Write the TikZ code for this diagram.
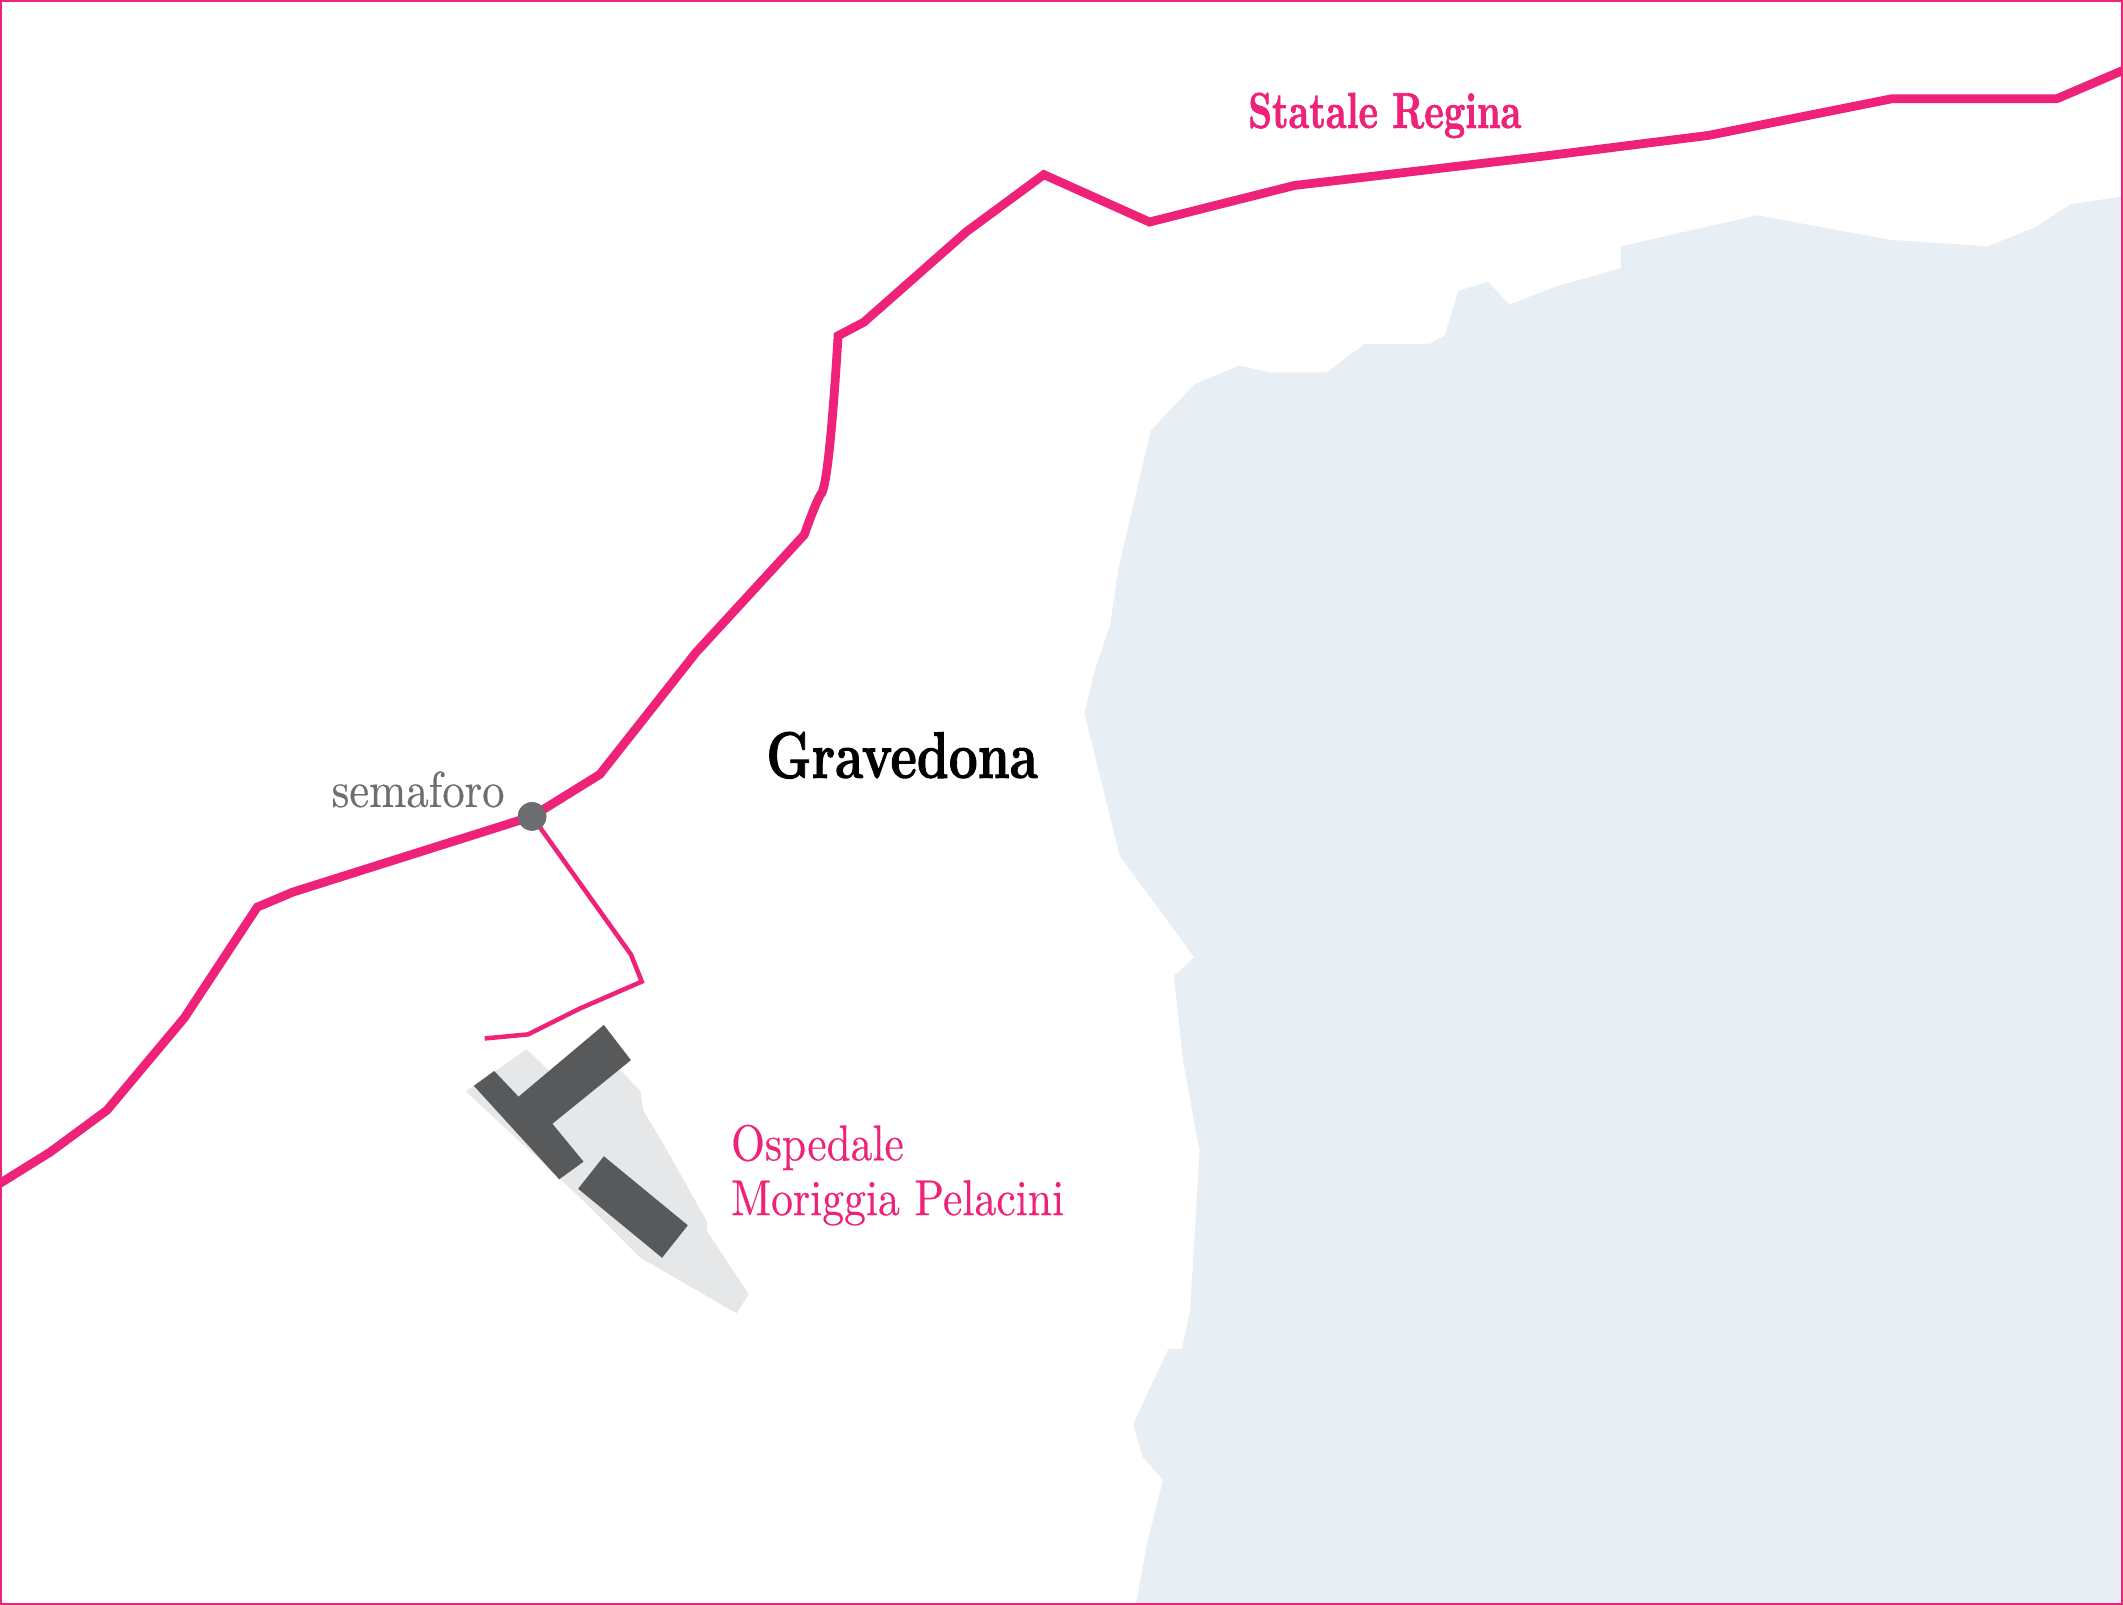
\documentclass[tikz,border=0pt]{standalone}
\usepackage{fontspec}
\setmainfont{Latin Modern Roman}
\newfontfamily\heavyfont[BoldFeatures={FakeBold=1.6}]{Latin Modern Roman}
\newfontfamily\mediumfont[FakeBold=0.35]{Latin Modern Roman}
\definecolor{pinkroad}{HTML}{EE2279}
\definecolor{lake}{HTML}{E7EEF4}
\definecolor{site}{HTML}{E6E7E8}
\definecolor{bldg}{HTML}{58595B}
\definecolor{dotgrey}{HTML}{6D6E71}
\tikzset{
  mainroad/.style={draw=pinkroad,line width=1.85pt,line join=miter},
  sideroad/.style={draw=pinkroad,line width=0.95pt,line join=miter},
  lbl/.style={anchor=base west,inner sep=0pt,outer sep=0pt},
  pinklbl/.style={lbl,text=pinkroad,font=\mediumfont\fontsize{10.6}{12}\selectfont},
  semdot/.style={circle,fill=dotgrey,inner sep=0pt,minimum size=0.21cm},
}
\begin{document}
\begin{tikzpicture}[x=0.01cm,y=-0.01cm]
\useasboundingbox (0,0) rectangle (1568,1185.4);
% lake
\fill[lake] (839,1185) -- (847,1141) -- (859,1093) -- (844,1076) -- (837,1052) -- (863,996) -- (873,996) -- (879,968) -- (886,850) -- (874,785) -- (867,721) -- (882,707) -- (827,632) -- (801,527) -- (808,497) -- (820,461) -- (826,420) -- (850,318) -- (882,284) -- (915,270) -- (938,275) -- (980,275) -- (1008,254) -- (1056,254) -- (1067,248) -- (1077,215) -- (1099,208) -- (1115,225) -- (1148,212) -- (1197,198) -- (1197,182) -- (1298,159) -- (1395,177) -- (1468,182) -- (1503,168) -- (1529,151) -- (1568,145) -- (1568,1185) -- cycle;
% hospital site
\fill[site] (344,806) -- (389,775) -- (410,795) -- (458,790) -- (473,806) -- (475,820) -- (490,845) -- (522,902) -- (522,909) -- (553,956) -- (544,970) -- (473,929) -- (430,886) -- cycle;
% buildings
\fill[bldg] (350,802) -- (365,791) -- (383,810) -- (446,757) -- (466,783) -- (408,830) -- (431,858) -- (413,871) -- cycle;
\fill[bldg] (446,854) -- (508,905) -- (489,929) -- (427,878) -- cycle;
% roads and traffic light
\node[semdot] (sem) at (393,603) {};
\coordinate (westend) at (0,874);
\coordinate (eastend) at (1568,52);
\coordinate (parkend) at (358,767);
\draw[sideroad] (sem.center) -- (466,705) -- (474,725) -- (428,745) -- (390,764) -- (parkend);
\draw[mainroad] (westend) -- (37,851) -- (79,820) -- (136,752) -- (190,670) -- (216,659) -- (sem.center) -- (443,572) -- (514,482) -- (594,395) .. controls (600,378) and (605,366) .. (607,364) .. controls (610,358) and (614,330) .. (619,248) -- (638,238) -- (714,171) -- (771,129) -- (849,164) -- (956,137) -- (1143,115) -- (1262,100) -- (1397,73) -- (1519,73) -- (eastend);
\node[semdot] at (sem.center) {};
% frame
\draw[pinkroad,line width=0.4pt] (0.7,0.7) rectangle (1567.3,1184.7);
% labels
\node[lbl,text=pinkroad,font=\heavyfont\fontsize{10.6}{12}\bfseries\selectfont] (statale) at (922,94.5) {\scalebox{0.735}[1]{Statale Regina}};
\node[lbl,font=\heavyfont\fontsize{13.8}{15}\bfseries\selectfont] (grav) at (566,574.5) {\scalebox{0.78}[1]{Gravedona}};
\node[lbl,text=dotgrey,font=\mediumfont\fontsize{10.6}{12}\selectfont] (semlab) at (245,596) {\scalebox{0.885}[1]{semaforo}};
\node[pinklbl] (osp) at (540,857) {\scalebox{0.86}[1]{Ospedale}};
\node[pinklbl] (mor) at (540,897.5) {\scalebox{0.865}[1]{Moriggia Pelacini}};
\end{tikzpicture}
\end{document}
